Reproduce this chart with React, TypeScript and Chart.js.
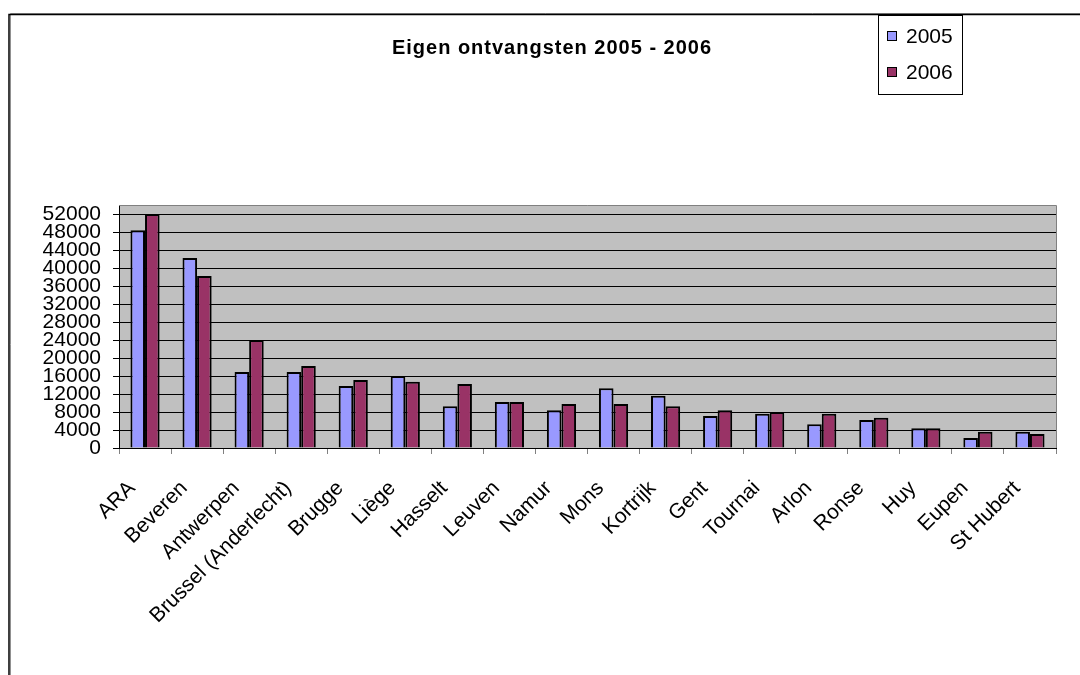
import React, { useEffect, useRef } from "react";
import { Chart, registerables } from "chart.js";

Chart.register(...registerables);

const categories = [
  "ARA",
  "Beveren",
  "Antwerpen",
  "Brussel (Anderlecht)",
  "Brugge",
  "Liège",
  "Hasselt",
  "Leuven",
  "Namur",
  "Mons",
  "Kortrijk",
  "Gent",
  "Tournai",
  "Arlon",
  "Ronse",
  "Huy",
  "Eupen",
  "St Hubert",
];
const values2005 = [48400, 42200, 16900, 16900, 13800, 16000, 9300, 10200, 8400, 13300, 11600, 7100, 7600, 5300, 6200, 4400, 2200, 3600];
const values2006 = [52000, 38200, 24000, 18200, 15100, 14700, 14200, 10200, 9800, 9800, 9300, 8400, 8000, 7600, 6700, 4400, 3600, 3100];
const seriesLabels = ["2005", "2006"];
const seriesColors = ["#9999FF", "#993366"];
const yTickValues = [0, 4000, 8000, 12000, 16000, 20000, 24000, 28000, 32000, 36000, 40000, 44000, 48000, 52000];
const yMax = 54000;
const chartTitle = "Eigen ontvangsten 2005 - 2006";

const FONT = '"Liberation Sans", Arial, sans-serif';

const decorPlugin = {
  id: "decor",
  beforeDraw(chart: any) {
    const { ctx, chartArea } = chart;
    ctx.save();
    ctx.fillStyle = "#FFFFFF";
    ctx.fillRect(0, 0, chart.width, chart.height);
    ctx.fillStyle = "#C0C0C0";
    ctx.fillRect(chartArea.left, chartArea.top, chartArea.right - chartArea.left, chartArea.bottom - chartArea.top);
    ctx.restore();
  },
  afterDraw(chart: any) {
    const { ctx, chartArea } = chart;
    ctx.save();
    // plot area border (top/right)
    ctx.strokeStyle = "#808080";
    ctx.lineWidth = 1;
    ctx.beginPath();
    ctx.moveTo(chartArea.left, chartArea.top + 0.5);
    ctx.lineTo(chartArea.right + 0.5, chartArea.top + 0.5);
    ctx.lineTo(chartArea.right + 0.5, chartArea.bottom);
    ctx.stroke();

    // outer chart border
    ctx.strokeStyle = "#909090";
    ctx.lineWidth = 1;
    ctx.beginPath();
    ctx.moveTo(10.5, chart.height);
    ctx.lineTo(10.5, 13.5);
    ctx.lineTo(chart.width, 13.5);
    ctx.stroke();
    ctx.strokeStyle = "#000000";
    ctx.lineWidth = 1.5;
    ctx.beginPath();
    ctx.moveTo(9, chart.height);
    ctx.lineTo(9, 14.5);
    ctx.lineTo(chart.width, 14.5);
    ctx.stroke();

    // title
    ctx.fillStyle = "#000000";
    ctx.font = `bold 20px ${FONT}`;
    (ctx as any).letterSpacing = "1px";
    ctx.textAlign = "center";
    ctx.textBaseline = "middle";
    ctx.fillText(chartTitle, 552, 48);
    (ctx as any).letterSpacing = "0px";

    // legend
    const lx = 878.5, ly = 15.5, lw = 84, lh = 79;
    ctx.fillStyle = "#FFFFFF";
    ctx.fillRect(lx, ly, lw, lh);
    ctx.strokeStyle = "#000000";
    ctx.lineWidth = 1;
    ctx.strokeRect(lx, ly, lw, lh);
    chart.data.datasets.forEach((ds: any, i: number) => {
      const cy = 36 + i * 36;
      ctx.fillStyle = ds.backgroundColor;
      ctx.fillRect(887, cy - 5, 10, 10);
      ctx.strokeStyle = "#000000";
      ctx.lineWidth = 1;
      ctx.strokeRect(887.5, cy - 4.5, 9, 9);
      ctx.fillStyle = "#000000";
      ctx.font = `21px ${FONT}`;
      ctx.textAlign = "left";
      ctx.textBaseline = "middle";
      ctx.fillText(ds.label, 906, cy + 1);
    });
    ctx.restore();
  },
};

export default function App() {
  const canvasRef = useRef<HTMLCanvasElement | null>(null);

  useEffect(() => {
    if (!canvasRef.current) return;
    const chart = new Chart(canvasRef.current, {
      type: "bar",
      data: {
        labels: categories,
        datasets: [
          {
            label: seriesLabels[0],
            data: values2005,
            backgroundColor: seriesColors[0],
            borderColor: "#000000",
            borderWidth: 2,
            categoryPercentage: 0.56,
            barPercentage: 1,
          },
          {
            label: seriesLabels[1],
            data: values2006,
            backgroundColor: seriesColors[1],
            borderColor: "#000000",
            borderWidth: 2,
            categoryPercentage: 0.56,
            barPercentage: 1,
          },
        ],
      },
      options: {
        animation: false,
        responsive: false,
        maintainAspectRatio: false,
        layout: { padding: { left: 0, top: 205, right: 24, bottom: 0 } },
        plugins: {
          legend: { display: false },
          title: { display: false },
          tooltip: { enabled: false },
        },
        scales: {
          x: {
            afterFit: (scale: any) => {
              scale.height = 227;
            },
            grid: {
              display: true,
              drawOnChartArea: false,
              drawTicks: true,
              tickLength: 6,
              offset: true,
              color: "#808080",
            },
            border: { display: true, color: "#000000", width: 1 },
            ticks: {
              autoSkip: false,
              maxRotation: 45,
              minRotation: 45,
              color: "#000000",
              font: { family: FONT, size: 21 },
              padding: 22,
              labelOffset: -13,
            },
          },
          y: {
            min: 0,
            max: yMax,
            afterFit: (scale: any) => {
              scale.width = 119;
            },
            afterBuildTicks: (scale: any) => {
              scale.ticks = yTickValues.map((v) => ({ value: v }));
            },
            grid: {
              color: "#000000",
              lineWidth: 1,
              drawTicks: true,
              tickLength: 6,
            },
            border: { display: true, color: "#000000", width: 1 },
            ticks: {
              autoSkip: false,
              color: "#000000",
              font: { family: FONT, size: 21 },
              padding: 12,
              callback: (v: any) => String(v),
            },
          },
        },
      },
      plugins: [decorPlugin],
    });
    return () => chart.destroy();
  }, []);

  return (
    <div style={{ position: "fixed", left: 0, top: 0, width: 1080, height: 675, background: "#FFFFFF" }}>
      <canvas ref={canvasRef} width={1080} height={675} style={{ width: 1080, height: 675, display: "block" }} />
    </div>
  );
}
